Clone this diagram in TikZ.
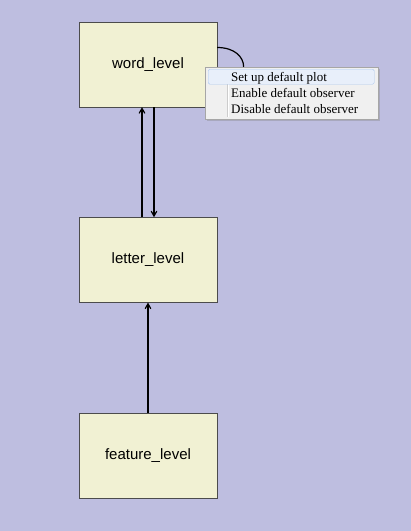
\documentclass[tikz,border=0pt]{standalone}
\usepackage{fontspec}
\setmainfont{Liberation Serif}
\setsansfont{Liberation Sans}
\usetikzlibrary{positioning, arrows, calc, shadows}
\definecolor{canvas}{RGB}{190,190,224}
\definecolor{levelfill}{RGB}{241,241,211}
\definecolor{menufill}{RGB}{240,240,240}
\definecolor{hilite}{RGB}{232,239,250}
\definecolor{hiliteborder}{RGB}{170,200,240}

\begin{document}
\begin{tikzpicture}[x=1pt, y=-1pt, node distance=110pt,
		level/.style={draw=black!70, fill=levelfill, minimum width=138pt, minimum height=85pt, inner sep=0pt, font=\sffamily\fontsize{15}{18}\selectfont},
		link/.style={->, >=angle 60, line width=1.2pt},
		item/.style={anchor=base west, inner sep=0pt, font=\fontsize{13}{16}\selectfont}]
	\fill[canvas] (0,0) rectangle (411,531);
	\useasboundingbox (0,0) rectangle (411,531);
	
	\node[level] (word) at (148,64.5) {word\_level};
	\node[level, below=of word] (letter) {letter\_level};
	\node[level, below=of letter] (feature) {feature\_level};
	
	\draw[link] ([xshift=-6pt]letter.north) -- ([xshift=-6pt]word.south);
	\draw[link] ([xshift=6pt]word.south) -- ([xshift=6pt]letter.north);
	\draw[link] (feature) -- (letter);
	\draw[link] ([yshift=17pt]word.east) .. controls +(35,0) and +(35,0) .. ([yshift=-21pt]word.east);
	
	% context menu
	\node[draw=black!35, fill=menufill, minimum width=173pt, minimum height=52pt, anchor=north west, inner sep=0pt,
		drop shadow={shadow xshift=2pt, shadow yshift=-2pt, opacity=0.35}] (menu) at (205,67) {};
	\draw[black!20] ($(menu.north west)+(22,2)$) -- ($(menu.south west)+(22,-2)$);
	\draw[white] ($(menu.north west)+(23,2)$) -- ($(menu.south west)+(23,-2)$);
	\node[draw=hiliteborder, fill=hilite, rounded corners=1.5pt, minimum width=166pt, minimum height=15pt, anchor=north west, inner sep=0pt] (plotrow) at (208,69) {};
	\node[item] (plot) at (231,81) {Set up default plot};
	\node[item] (enable) at (231,97) {Enable default observer};
	\node[item] (disable) at (231,113) {Disable default observer};
\end{tikzpicture}
\end{document}
